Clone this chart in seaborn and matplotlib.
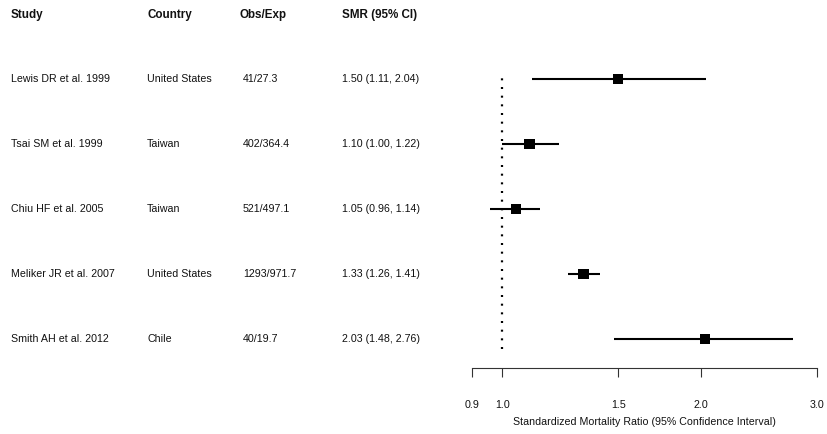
import matplotlib
matplotlib.use("Agg")
import matplotlib.pyplot as plt
import matplotlib.transforms as mtransforms
import seaborn as sns
import pandas as pd

studies = ["Lewis DR et al. 1999", "Tsai SM et al. 1999", "Chiu HF et al. 2005",
           "Meliker JR et al. 2007", "Smith AH et al. 2012"]
countries = ["United States", "Taiwan", "Taiwan", "United States", "Chile"]
obs_exp = ["41/27.3", "402/364.4", "521/497.1", "1293/971.7", "40/19.7"]
smr = [1.50, 1.10, 1.05, 1.33, 2.03]
ci_low = [1.11, 1.00, 0.96, 1.26, 1.48]
ci_high = [2.04, 1.22, 1.14, 1.41, 2.76]

tick_values = [0.9, 1.0, 1.5, 2.0, 3.0]
tick_labels = ["0.9", "1.0", "1.5", "2.0", "3.0"]

df = pd.DataFrame({
    "study": studies, "country": countries, "obs_exp": obs_exp,
    "smr": smr, "lo": ci_low, "hi": ci_high,
})
df["row"] = list(range(len(df), 0, -1))
df["label"] = [f"{s:.2f} ({l:.2f}, {h:.2f})" for s, l, h in zip(smr, ci_low, ci_high)]

sns.set_theme(style="white")
plt.rcParams["font.family"] = ["Liberation Sans", "DejaVu Sans"]

fig = plt.figure(figsize=(8.28, 4.34), dpi=100)
ax = fig.add_axes([0.570, 0.1515, 0.4163, 0.7414])

# reference line at SMR = 1
ax.vlines(1.0, 0.846, 5.09, color="black", lw=1.6, linestyle=(0, (0.9, 3.0)))

ax.hlines(df["row"], df["lo"], df["hi"], color="black", lw=1.5)
sns.scatterplot(data=df, x="smr", y="row", marker="s", s=58, color="black",
                edgecolor="none", linewidth=0, legend=False, ax=ax, zorder=3)

ax.set_xscale("log")
ax.set_xlim(0.9, 3.0)
ax.set_ylim(0.55, 5.5)
ax.set_xticks(tick_values)
ax.set_xticklabels(tick_labels)
ax.minorticks_off()
ax.set_yticks([])
ax.set_ylabel("")
ax.set_xlabel("Standardized Mortality Ratio (95% Confidence Interval)",
              fontsize=7.7, color="#111111", labelpad=5.5)
ax.tick_params(axis="x", direction="out", length=6.2, width=0.8, color="#333333",
               pad=16.5, labelsize=7.7, labelcolor="#111111", bottom=True)

for side in ["left", "top", "right"]:
    ax.spines[side].set_visible(False)
ax.spines["bottom"].set_color("#333333")
ax.spines["bottom"].set_linewidth(0.8)

# table columns on the left
trans = mtransforms.blended_transform_factory(fig.transFigure, ax.transData)
col_x = {"study": 11 / 828, "country": 147 / 828, "obs_exp": 243 / 828, "label": 342 / 828}
headers = [("Study", 11 / 828), ("Country", 147 / 828), ("Obs/Exp", 240 / 828),
           ("SMR (95% CI)", 342 / 828)]
header_y = 5.985
for text, x in headers:
    ax.text(x, header_y, text, transform=trans, ha="left", va="center",
            fontsize=8.4, fontweight="bold", color="#111111")

for _, r in df.iterrows():
    for key, x in col_x.items():
        ax.text(x, r["row"], r[key], transform=trans, ha="left", va="center",
                fontsize=7.7, color="#111111")

fig.savefig("out.png", dpi=100)
